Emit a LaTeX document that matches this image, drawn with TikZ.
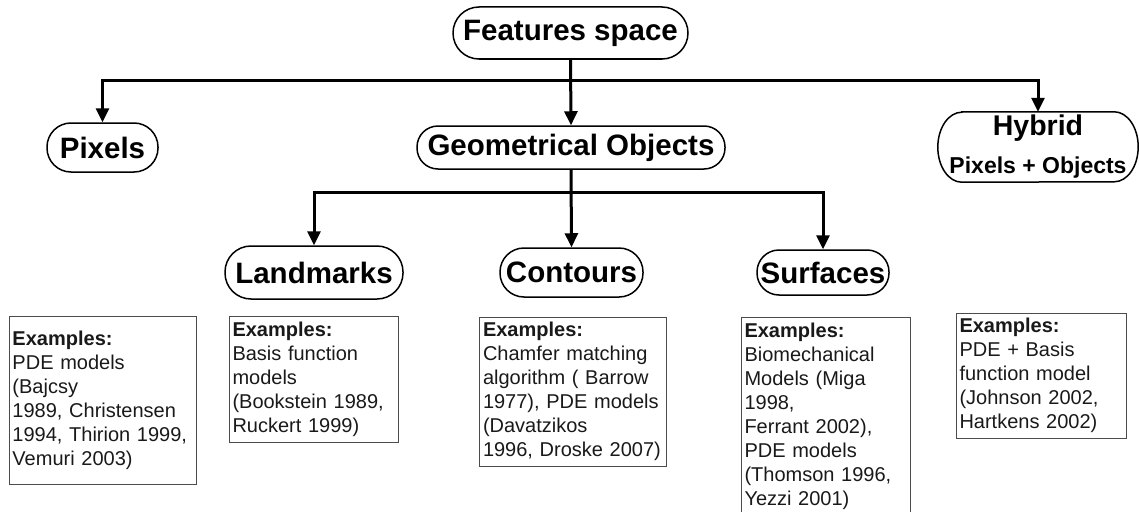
\documentclass[tikz,border=0pt]{standalone}
\usepackage{fontspec}
\setmainfont{Liberation Sans}
\usetikzlibrary{arrows.meta}
\begin{document}
\begin{tikzpicture}[x=1pt,y=1pt,
  cat/.style={draw, line width=1.5pt, rounded corners=#1, inner sep=0pt,
    font=\bfseries\fontsize{29.5}{34}\selectfont},
  cat/.default=24pt,
  link/.style={line width=3pt, -{Triangle[width=13pt,length=14pt]}},
  exbox/.style={draw=black!70, line width=1pt, text width=#1, inner xsep=3.5pt,
    inner ysep=0pt, align=left, font=\fontsize{20}{24}\selectfont, text=black!90,
    execute at begin node={\hyphenpenalty=10000\exhyphenpenalty=10000}}
]
\useasboundingbox (0,0) rectangle (1139,-511);

% category nodes
\node[cat=26pt, minimum width=235pt, minimum height=52pt] (fs) at (570.5,-33) {Features space};
\node[cat=24pt, minimum width=111pt, minimum height=49pt] (px) at (102.5,-147.5) {Pixels};
\node[cat=21pt, minimum width=308pt, minimum height=43pt] (geo) at (571,-147.5) {Geometrical Objects};
\node[inner sep=0pt, minimum width=200pt, minimum height=70pt, align=center,
      font=\bfseries\fontsize{28.5}{38}\selectfont] (hy) at (1038,-147)
  {Hybrid\\\fontsize{23}{38}\selectfont Pixels + Objects};
\draw[line width=1.5pt] ([xshift=24pt]hy.north west) -- ([xshift=-24pt]hy.north east)
  arc[start angle=90, end angle=-90, x radius=24pt, y radius=35pt]
  -- ([xshift=24pt]hy.south west)
  arc[start angle=270, end angle=90, x radius=24pt, y radius=35pt] -- cycle;
\node[cat=26pt, minimum width=178pt, minimum height=53pt] (lm) at (314,-272.5) {Landmarks};
\node[cat=24pt, minimum width=143pt, minimum height=49pt] (ct) at (571.5,-272.5) {Contours};
\node[cat=22pt, minimum width=132pt, minimum height=45pt] (sf) at (823,-272.5) {Surfaces};

% connectors
\coordinate (b1) at (570.5,-80);
\coordinate (b2) at (571,-192);
\draw[link] (fs.south) -- (geo.north);
\draw[link] (b1) -| (px.north);
\draw[link] (b1) -| (hy.north);
\draw[link] (geo.south) -- (ct.north);
\draw[link] (b2) -| (lm.north);
\draw[link] (b2) -| (sf.north);

% example boxes
\node[exbox=180pt, minimum height=168pt] (ex1) at (102.5,-400)
  {\textbf{Examples:}\\PDE models\\(Bajcsy\\1989, Christensen\\1994, Thirion 1999,\\Vemuri 2003)};
\node[exbox=162pt, minimum height=126pt] (ex2) at (313.5,-379)
  {\textbf{Examples:}\\Basis function\\models\\(Bookstein 1989,\\Ruckert 1999)};
\node[exbox=180pt, minimum height=149pt] (ex3) at (573,-391.5)
  {\textbf{Examples:}\\Chamfer matching\\algorithm ( Barrow\\1977), PDE models\\(Davatzikos\\1996, Droske 2007)};
\begin{scope}
\clip (0,0) rectangle (1139,-511);
\node[exbox=162pt, minimum height=199pt] (ex4) at (825.5,-416.5)
  {\textbf{Examples:}\\Biomechanical\\Models (Miga\\1998,\\Ferrant 2002),\\PDE models\\(Thomson 1996,\\Yezzi 2001)};
\end{scope}
\node[exbox=163pt, minimum height=125pt] (ex5) at (1041,-375.5)
  {\textbf{Examples:}\\PDE + Basis\\function model\\(Johnson 2002,\\Hartkens 2002)};
\end{tikzpicture}
\end{document}
